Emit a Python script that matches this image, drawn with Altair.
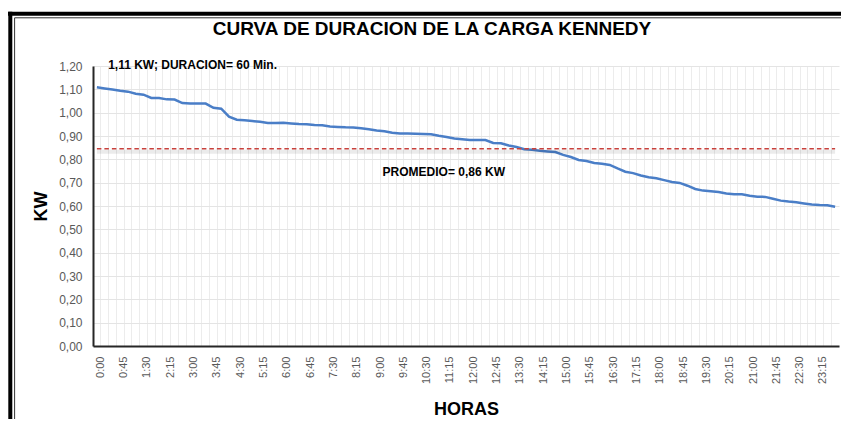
import json
import altair as alt
import pandas as pd

times = [
    "0:00", "0:15", "0:30", "0:45", "1:00", "1:15", "1:30", "1:45",
    "2:00", "2:15", "2:30", "2:45", "3:00", "3:15", "3:30", "3:45",
    "4:00", "4:15", "4:30", "4:45", "5:00", "5:15", "5:30", "5:45",
    "6:00", "6:15", "6:30", "6:45", "7:00", "7:15", "7:30", "7:45",
    "8:00", "8:15", "8:30", "8:45", "9:00", "9:15", "9:30", "9:45",
    "10:00", "10:15", "10:30", "10:45", "11:00", "11:15", "11:30", "11:45",
    "12:00", "12:15", "12:30", "12:45", "13:00", "13:15", "13:30", "13:45",
    "14:00", "14:15", "14:30", "14:45", "15:00", "15:15", "15:30", "15:45",
    "16:00", "16:15", "16:30", "16:45", "17:00", "17:15", "17:30", "17:45",
    "18:00", "18:15", "18:30", "18:45", "19:00", "19:15", "19:30", "19:45",
    "20:00", "20:15", "20:30", "20:45", "21:00", "21:15", "21:30", "21:45",
    "22:00", "22:15", "22:30", "22:45", "23:00", "23:15", "23:30", "23:45",
]

kw = [
    1.109, 1.104, 1.099, 1.094, 1.090, 1.081, 1.077, 1.063,
    1.063, 1.057, 1.056, 1.041, 1.039, 1.039, 1.039, 1.021,
    1.017, 0.983, 0.970, 0.967, 0.964, 0.961, 0.956, 0.956,
    0.957, 0.954, 0.951, 0.950, 0.947, 0.946, 0.941, 0.939,
    0.937, 0.936, 0.933, 0.929, 0.924, 0.920, 0.914, 0.911,
    0.911, 0.910, 0.909, 0.907, 0.901, 0.896, 0.889, 0.886,
    0.883, 0.883, 0.883, 0.870, 0.869, 0.859, 0.853, 0.843,
    0.841, 0.837, 0.834, 0.831, 0.819, 0.810, 0.797, 0.793,
    0.784, 0.781, 0.776, 0.761, 0.747, 0.741, 0.731, 0.723,
    0.719, 0.711, 0.703, 0.699, 0.687, 0.673, 0.666, 0.663,
    0.660, 0.654, 0.650, 0.650, 0.644, 0.640, 0.639, 0.631,
    0.623, 0.619, 0.616, 0.611, 0.606, 0.604, 0.603, 0.597,
]

tick_labels = [
    "0:00", "0:45", "1:30", "2:15", "3:00", "3:45", "4:30", "5:15",
    "6:00", "6:45", "7:30", "8:15", "9:00", "9:45", "10:30", "11:15",
    "12:00", "12:45", "13:30", "14:15", "15:00", "15:45", "16:30", "17:15",
    "18:00", "18:45", "19:30", "20:15", "21:00", "21:45", "22:30", "23:15",
]

y_ticks = [0.0, 0.1, 0.2, 0.3, 0.4, 0.5, 0.6, 0.7, 0.8, 0.9, 1.0, 1.1, 1.2]

avg_kw = 0.845
title_text = "CURVA DE DURACION DE LA CARGA KENNEDY"
note_peak = "1,11 KW; DURACION= 60 Min."
note_avg = "PROMEDIO= 0,86 KW"

FONT = "Liberation Sans"
PW = 746  # plot width
BAND = PW / len(times)

df = pd.DataFrame({"hora": times, "kw": kw})
avg_df = pd.DataFrame({"hora": [times[0]], "hora2": [times[-1]], "kw": [avg_kw]})
peak_df = pd.DataFrame({"hora": [times[1]], "kw": [1.2], "t": [note_peak]})
avgtxt_df = pd.DataFrame({"hora": [times[44]], "kw": [0.745], "t": [note_avg]})
one = pd.DataFrame({"a": [0]})

xscale = alt.Scale(type="band", domain=times, paddingInner=0, paddingOuter=0)
yscale = alt.Scale(domain=[0, 1.2], nice=False, zero=True)

label_expr = "indexof(" + json.dumps(tick_labels) + ", datum.value) >= 0 ? datum.label : ''"

x_axis = alt.Axis(
    title="HORAS", labelAngle=-90, labelExpr=label_expr, labelOverlap=False,
    bandPosition=0, labelOffset=BAND / 2, grid=True, gridColor="#ECECEC",
    ticks=False, labelPadding=10, domainColor="#262626", domainWidth=2,
    labelColor="#595959", labelFontSize=11, labelFont=FONT,
    titleFontSize=18, titleFontWeight="bold", titleColor="#000000",
    titleFont=FONT, titleY=68, titleBaseline="alphabetic",
)
y_axis = alt.Axis(
    title="KW", values=y_ticks,
    labelExpr="replace(format(datum.value, '.2f'), '.', ',')",
    grid=True, gridColor="#E4E4E4", ticks=False, labelPadding=11,
    domainColor="#262626", domainWidth=2, labelColor="#595959",
    labelFontSize=12, labelFont=FONT, titleFontSize=18, titleFontWeight="bold",
    titleColor="#000000", titleFont=FONT, titleX=-52, titleY=140,
    titleAngle=-90, titleBaseline="middle",
)

X = alt.X("hora:N", scale=xscale, sort=None, axis=x_axis, bandPosition=0.5)
Y = alt.Y("kw:Q", scale=yscale, axis=y_axis)

line = alt.Chart(df).mark_line(color="#4A7EC7", strokeWidth=2.5).encode(x=X, y=Y)

shadow = alt.Chart(avg_df).mark_rule(color="#000000", opacity=0.08, strokeWidth=4, yOffset=3).encode(
    x=X, x2="hora2:N", y=Y,
)
avg_rule = alt.Chart(avg_df).mark_rule(color="#C8413C", strokeWidth=1.5, strokeDash=[4.5, 3]).encode(
    x=X, x2="hora2:N", y=Y,
)

peak_txt = alt.Chart(peak_df).mark_text(
    align="left", baseline="middle", fontWeight="bold", fontSize=12, font=FONT,
    color="#000000", dx=3.5, dy=-1.5,
).encode(x=X, y=Y, text="t:N")
avg_txt = alt.Chart(avgtxt_df).mark_text(
    align="center", baseline="middle", fontWeight="bold", fontSize=12, font=FONT,
    color="#000000", dx=5,
).encode(x=X, y=Y, text="t:N")

# decorative double frame (top and left edges)
frame_top = alt.Chart(one).mark_rule(color="#000000", strokeWidth=4).encode(
    x=alt.value(-85), x2=alt.value(PW + 2), y=alt.value(-52.3))
frame_left = alt.Chart(one).mark_rule(color="#000000", strokeWidth=4).encode(
    x=alt.value(-82.7), y=alt.value(-54.3), y2=alt.value(353))
frame_top2 = alt.Chart(one).mark_rule(color="#333333", strokeWidth=1).encode(
    x=alt.value(-78.4), x2=alt.value(PW + 2), y=alt.value(-48.2))
frame_left2 = alt.Chart(one).mark_rule(color="#333333", strokeWidth=1).encode(
    x=alt.value(-78.4), y=alt.value(-48.2), y2=alt.value(353))

chart = alt.layer(
    line, shadow, avg_rule, peak_txt, avg_txt,
    frame_top, frame_left, frame_top2, frame_left2,
).properties(
    width=PW, height=280,
    title=alt.TitleParams(
        text=title_text, fontSize=19, fontWeight="bold", font=FONT,
        color="#000000", anchor="middle", dx=-34, offset=-48, baseline="bottom",
    ),
    autosize=alt.AutoSizeParams(type="none"),
    padding={"left": 85, "top": 58, "right": 2, "bottom": 73},
    background="#FFFFFF",
).configure_view(stroke=None)

chart.save("out.html", embed_options={"renderer": "svg", "actions": False})
